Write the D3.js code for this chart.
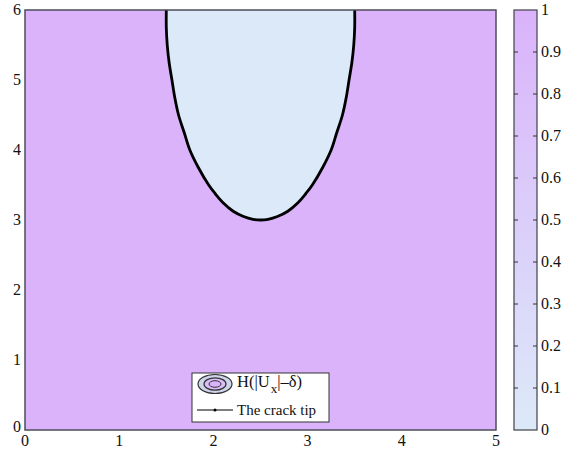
<!DOCTYPE html>
<html>
<head>
<meta charset="utf-8">
<script src="https://cdn.jsdelivr.net/npm/d3@7"></script>
<style>
  html, body { margin: 0; padding: 0; background: #ffffff; }
  svg { display: block; font-family: "Liberation Serif", "DejaVu Serif", serif; }
</style>
</head>
<body>
<svg id="chart" width="578" height="456"></svg>
<script>
// Axis ticks
const xTicks = [0, 1, 2, 3, 4, 5];
const yTicks = [0, 1, 2, 3, 4, 5, 6];
const colorTicks = [0, 0.1, 0.2, 0.3, 0.4, 0.5, 0.6, 0.7, 0.8, 0.9, 1];
const colorTickLabels = ["0", "0.1", "0.2", "0.3", "0.4", "0.5", "0.6", "0.7", "0.8", "0.9", "1"];

// Heaviside field values: 1 in the intact material, 0 inside the crack region
const fieldOutside = 1;
const fieldInside = 0;

// Crack boundary (the H = 0.5 level set), traced from upper-left around the tip to upper-right
const boundaryX = [1.50, 1.50, 1.51, 1.53, 1.56, 1.59, 1.63, 1.69, 1.75, 1.84, 1.95, 2.02, 2.10, 2.21, 2.32, 2.42, 2.50,
                   2.58, 2.68, 2.79, 2.90, 2.98, 3.05, 3.16, 3.25, 3.31, 3.37, 3.41, 3.44, 3.47, 3.49, 3.50, 3.50];
const boundaryY = [6.00, 5.75, 5.50, 5.25, 5.00, 4.75, 4.50, 4.25, 4.00, 3.75, 3.50, 3.375, 3.25, 3.125, 3.05, 3.01, 3.00,
                   3.01, 3.05, 3.125, 3.25, 3.375, 3.50, 3.75, 4.00, 4.25, 4.50, 4.75, 5.00, 5.25, 5.50, 5.75, 6.00];

const legendLabels = ["H(|U", "x", "|\u2013\u03b4)", "The crack tip"];

const svg = d3.select("#chart");
const plot = { left: 25, right: 496, top: 10, bottom: 430 };
const cbar = { left: 514, right: 537, top: 10, bottom: 430 };

const x = d3.scaleLinear().domain([0, 5]).range([plot.left, plot.right]);
const y = d3.scaleLinear().domain([0, 6]).range([plot.bottom, plot.top]);
const cy = d3.scaleLinear().domain([0, 1]).range([cbar.bottom, cbar.top]);
const color = d3.scaleLinear().domain([0, 1]).range(["#dce9f8", "#dab3fb"]);

const frameColor = "#4e4e58";

// Field background
svg.append("defs").append("clipPath").attr("id", "plotClip")
  .append("rect")
  .attr("x", plot.left).attr("y", plot.top)
  .attr("width", plot.right - plot.left).attr("height", plot.bottom - plot.top);

const g = svg.append("g").attr("clip-path", "url(#plotClip)");
g.append("rect")
  .attr("x", x(0)).attr("y", y(6))
  .attr("width", x(5) - x(0)).attr("height", y(0) - y(6))
  .attr("fill", color(fieldOutside));

const pts = boundaryX.map((d, i) => [d, boundaryY[i]]);
const line = d3.line().x(d => x(d[0])).y(d => y(d[1])).curve(d3.curveCatmullRom);

// crack region
g.append("path")
  .attr("d", line(pts) + "Z")
  .attr("fill", color(fieldInside))
  .attr("stroke", "none");

// level-set contour
g.append("path")
  .attr("d", line(pts))
  .attr("fill", "none")
  .attr("stroke", "#000")
  .attr("stroke-width", 2.8);

// frame
svg.append("rect")
  .attr("x", plot.left).attr("y", plot.top)
  .attr("width", plot.right - plot.left).attr("height", plot.bottom - plot.top)
  .attr("fill", "none").attr("stroke", frameColor).attr("stroke-width", 1.5);

// axis labels
svg.append("g").selectAll("text").data(xTicks).join("text")
  .attr("x", d => x(d)).attr("y", 446)
  .attr("text-anchor", "middle")
  .attr("font-size", 16).attr("fill", "#111")
  .text(d => d);

svg.append("g").selectAll("text").data(yTicks).join("text")
  .attr("x", 21).attr("y", d => y(d) + 5 - (d === 0 ? 3 : 0))
  .attr("text-anchor", "end")
  .attr("font-size", 16).attr("fill", "#111")
  .text(d => d);

// Colour bar
const grad = svg.select("defs").append("linearGradient")
  .attr("id", "cbGrad").attr("x1", 0).attr("y1", 1).attr("x2", 0).attr("y2", 0);
grad.selectAll("stop").data(colorTicks).join("stop")
  .attr("offset", d => d)
  .attr("stop-color", d => color(d));

svg.append("rect")
  .attr("x", cbar.left).attr("y", cbar.top)
  .attr("width", cbar.right - cbar.left).attr("height", cbar.bottom - cbar.top)
  .attr("fill", "url(#cbGrad)")
  .attr("stroke", frameColor).attr("stroke-width", 1.3);

const cbTicks = svg.append("g").selectAll("g")
  .data(colorTicks.filter(d => d > 0 && d < 1)).join("g");
cbTicks.append("line")
  .attr("x1", cbar.left).attr("x2", cbar.left + 4)
  .attr("y1", d => cy(d)).attr("y2", d => cy(d))
  .attr("stroke", "#333").attr("stroke-width", 1);
cbTicks.append("line")
  .attr("x1", cbar.right - 4).attr("x2", cbar.right)
  .attr("y1", d => cy(d)).attr("y2", d => cy(d))
  .attr("stroke", "#333").attr("stroke-width", 1);

svg.append("g").selectAll("text").data(colorTicks).join("text")
  .attr("x", 541).attr("y", d => cy(d) + 5)
  .attr("font-size", 16).attr("fill", "#111")
  .text((d, i) => colorTickLabels[i]);

// Legend
const lg = svg.append("g");
lg.append("rect")
  .attr("x", 192).attr("y", 373).attr("width", 137).attr("height", 49)
  .attr("fill", "#fff").attr("stroke", "#333").attr("stroke-width", 1);

lg.append("ellipse").attr("cx", 215).attr("cy", 384).attr("rx", 17).attr("ry", 9.5)
  .attr("fill", "#cfd6ec").attr("stroke", "#333").attr("stroke-width", 1.2);
lg.append("ellipse").attr("cx", 215).attr("cy", 384).attr("rx", 11).attr("ry", 6.2)
  .attr("fill", color(0.8)).attr("stroke", "#333").attr("stroke-width", 1.2);
lg.append("ellipse").attr("cx", 215).attr("cy", 384).attr("rx", 6).attr("ry", 3.3)
  .attr("fill", color(1)).attr("stroke", "#333").attr("stroke-width", 1);

const t1 = lg.append("text").attr("x", 237).attr("y", 387)
  .attr("font-size", 16.5).attr("fill", "#111");
t1.append("tspan").text(legendLabels[0]);
t1.append("tspan").attr("font-size", 13).attr("dy", 6).attr("dx", 1).text(legendLabels[1]);
t1.append("tspan").attr("dy", -6).text(legendLabels[2]);

lg.append("line").attr("x1", 197).attr("x2", 233).attr("y1", 410).attr("y2", 410)
  .attr("stroke", "#000").attr("stroke-width", 1.2);
lg.append("circle").attr("cx", 215).attr("cy", 410).attr("r", 1.5).attr("fill", "#000");
lg.append("text").attr("x", 237).attr("y", 415)
  .attr("font-size", 15).attr("fill", "#111").text(legendLabels[3]);
</script>
</body>
</html>
